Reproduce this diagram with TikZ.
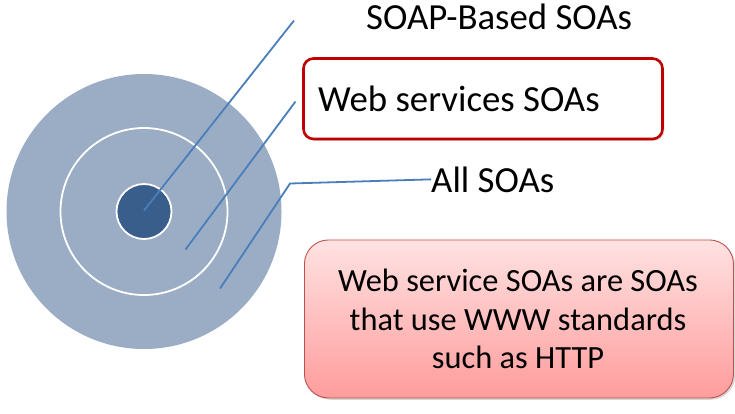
\documentclass[tikz,border=0pt]{standalone}
\usepackage{fontspec}
\setmainfont{Carlito}
\usetikzlibrary{shadows}
\definecolor{ringfill}{HTML}{9AADC5}
\definecolor{corefill}{HTML}{3A5E8B}
\definecolor{leader}{HTML}{4A7EBB}
\definecolor{boxred}{HTML}{C00000}
\definecolor{noteedge}{HTML}{C0504D}
\definecolor{notetop}{HTML}{FFE2E2}
\definecolor{notebot}{HTML}{FF9C9C}
\tikzset{
  leaderline/.style={draw=leader, line width=1.8pt},
  label/.style={font=\fontsize{36.8}{44}\selectfont, inner sep=0pt},
  notetext/.style={font=\fontsize{32.4}{38}\selectfont, inner sep=0pt},
}
\begin{document}
\begin{tikzpicture}[x=1pt,y=-1pt]
  \path[use as bounding box, fill=white] (0,0) rectangle (735,413);

  % concentric rings
  \fill[ringfill] (144,211.5) circle[radius=137.5];
  \draw[white, line width=1.8pt] (144,211.5) circle[radius=83.5];
  \filldraw[fill=corefill, draw=white, line width=1.8pt] (144,211.5) circle[radius=27.5];

  % frame around the web services label
  \draw[boxred, fill=white, line width=2.6pt, rounded corners=10pt,
        drop shadow={shadow xshift=1.8pt, shadow yshift=-1.8pt, opacity=0.25}]
        (303.5,58.5) rectangle (662.5,139);

  % labels
  \node[label, anchor=base west] (soap) at (366,29.5) {SOAP-Based SOAs};
  \node[label, anchor=base west] (web) at (318,111) {Web services SOAs};
  \node[label, anchor=base west] (all) at (431,192) {All SOAs};

  % explanatory note
  \node[draw=noteedge, line width=0.9pt, rounded corners=24pt,
        top color=notetop, bottom color=notebot,
        minimum width=429pt, minimum height=158pt,
        drop shadow={shadow xshift=1.8pt, shadow yshift=-1.8pt, opacity=0.3},
        anchor=north west] (note) at (304,239.5) {};
  \node[notetext, anchor=base] at (518,291.5) {Web service SOAs are SOAs};
  \node[notetext, anchor=base] at (518,330) {that use WWW standards};
  \node[notetext, anchor=base] at (518,368.5) {such as HTTP};

  % leader line end points
  \coordinate (p1) at (144,210.5);
  \coordinate (q1) at (294,20.5);
  \coordinate (p2) at (185.5,249.5);
  \coordinate (q2) at (295.5,101.5);
  \coordinate (p3) at (220,288.5);
  \coordinate (q3) at (290,183.5);

  \draw[leaderline] (p1) -- (q1);
  \draw[leaderline] (p2) -- (q2);
  \draw[leaderline] (p3) -- (q3) -- (all.west);
\end{tikzpicture}
\end{document}
